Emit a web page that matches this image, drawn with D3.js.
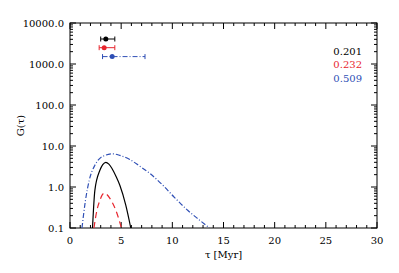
<!DOCTYPE html>
<html>
<head>
<meta charset="utf-8">
<script src="https://cdn.jsdelivr.net/npm/d3@7"></script>
<style>
  body { margin: 0; background: #fff; }
</style>
</head>
<body>
<svg id="chart" width="399" height="273" font-family="'DejaVu Serif', 'Liberation Serif', serif"></svg>
<script>
// data
const blackCurve = [[2.2, 0.1], [2.43, 0.83], [2.92, 2.55], [3.2, 3.5], [3.5, 4.0], [3.8, 3.6], [4.09, 2.86], [4.5, 1.8], [4.87, 1.1], [5.45, 0.36], [5.94, 0.1]];
const redCurve = [[2.34, 0.1], [2.63, 0.27], [2.92, 0.47], [3.15, 0.64], [3.36, 0.71], [3.6, 0.66], [3.9, 0.53], [4.48, 0.27], [5.03, 0.1]];
const blueCurve = [[1.17, 0.1], [1.5, 0.45], [1.88, 1.46], [2.43, 3.4], [2.92, 5.0], [3.41, 5.9], [4.19, 6.45], [4.87, 5.9], [5.84, 4.7], [6.82, 3.2], [7.79, 2.16], [9.0, 1.15], [10.2, 0.56], [11.5, 0.27], [12.6, 0.16], [13.63, 0.1]];

const points = [
  {x: 3.5, lo: 3.0, hi: 4.38, y: 4070},
  {x: 3.34, lo: 2.85, hi: 4.38, y: 2500},
  {x: 4.12, lo: 3.18, hi: 7.33, y: 1515}
];
const labels = ["0.201", "0.232", "0.509"];
const colors = ["#000000", "#e8262e", "#2f4fb5"];
const dashes = [null, "6,4", "5,2,1,2"];
const curves = [blackCurve, redCurve, blueCurve];

const xTicks = [0, 5, 10, 15, 20, 25, 30];
const yTicks = [0.1, 1, 10, 100, 1000, 10000];

const svg = d3.select("#chart");
const margin = {left: 70, right: 22, top: 23, bottom: 45};
const W = 399, H = 273;

const x = d3.scaleLinear().domain([0, 30]).range([margin.left, W - margin.right]);
const y = d3.scaleLog().domain([0.1, 10000]).range([H - margin.bottom, margin.top]);

svg.append("clipPath").attr("id", "clip")
  .append("rect")
  .attr("x", margin.left).attr("y", margin.top)
  .attr("width", x(30) - x(0)).attr("height", y(0.1) - y(10000));

// minor ticks
const minorX = d3.range(0, 31, 1);
const minorY = [];
[0.1, 1, 10, 100, 1000].forEach(d => { for (let k = 2; k < 10; k++) minorY.push(d * k); });

const axes = svg.append("g").attr("stroke", "#000").attr("stroke-width", 1);
const yBot = y(0.1), yTop = y(10000), xLeft = x(0), xRight = x(30);

minorX.forEach(v => {
  const len = v % 5 === 0 ? 6 : 3;
  axes.append("line").attr("x1", x(v)).attr("x2", x(v)).attr("y1", yBot).attr("y2", yBot - len);
  axes.append("line").attr("x1", x(v)).attr("x2", x(v)).attr("y1", yTop).attr("y2", yTop + len);
});
yTicks.forEach(v => {
  axes.append("line").attr("x1", xLeft).attr("x2", xLeft + 6).attr("y1", y(v)).attr("y2", y(v));
  axes.append("line").attr("x1", xRight).attr("x2", xRight - 6).attr("y1", y(v)).attr("y2", y(v));
});
minorY.forEach(v => {
  axes.append("line").attr("x1", xLeft).attr("x2", xLeft + 3).attr("y1", y(v)).attr("y2", y(v));
  axes.append("line").attr("x1", xRight).attr("x2", xRight - 3).attr("y1", y(v)).attr("y2", y(v));
});

axes.append("rect")
  .attr("x", xLeft).attr("y", yTop)
  .attr("width", xRight - xLeft).attr("height", yBot - yTop)
  .attr("fill", "none");

// tick labels
svg.append("g").selectAll("text").data(xTicks).join("text")
  .attr("x", d => x(d)).attr("y", yBot + 16)
  .attr("text-anchor", "middle").attr("font-size", 10)
  .text(d => d);

svg.append("g").selectAll("text").data(yTicks).join("text")
  .attr("x", xLeft - 6).attr("y", d => y(d) + 4)
  .attr("text-anchor", "end").attr("font-size", 10)
  .text(d => d.toFixed(1));

// axis titles
svg.append("text")
  .attr("x", (xLeft + xRight) / 2).attr("y", yBot + 30)
  .attr("text-anchor", "middle").attr("font-size", 10)
  .text("τ [Myr]");

svg.append("text")
  .attr("transform", `translate(24,${(yTop + yBot) / 2}) rotate(-90)`)
  .attr("text-anchor", "middle").attr("font-size", 10)
  .text("G(τ)");

// curves
const line = d3.line().curve(d3.curveMonotoneX).x(d => x(d[0])).y(d => y(d[1]));
const plot = svg.append("g").attr("clip-path", "url(#clip)");
curves.forEach((c, i) => {
  plot.append("path")
    .attr("d", line(c))
    .attr("fill", "none")
    .attr("stroke", colors[i])
    .attr("stroke-width", 1.2)
    .attr("stroke-dasharray", dashes[i]);
});

// error bars
points.forEach((p, i) => {
  const g = svg.append("g").attr("stroke", colors[i]).attr("stroke-width", 1);
  g.append("line").attr("x1", x(p.lo)).attr("x2", x(p.hi)).attr("y1", y(p.y)).attr("y2", y(p.y))
    .attr("stroke-dasharray", i === 2 ? dashes[2] : null);
  [p.lo, p.hi].forEach(v => {
    g.append("line").attr("x1", x(v)).attr("x2", x(v)).attr("y1", y(p.y) - 2.5).attr("y2", y(p.y) + 2.5);
  });
  svg.append("circle").attr("cx", x(p.x)).attr("cy", y(p.y)).attr("r", 2.5).attr("fill", colors[i]);
});

// legend values
labels.forEach((t, i) => {
  svg.append("text")
    .attr("x", 362).attr("y", 55 + i * 13.3)
    .attr("text-anchor", "end").attr("font-size", 10)
    .attr("fill", colors[i])
    .text(t);
});
</script>
</body>
</html>
